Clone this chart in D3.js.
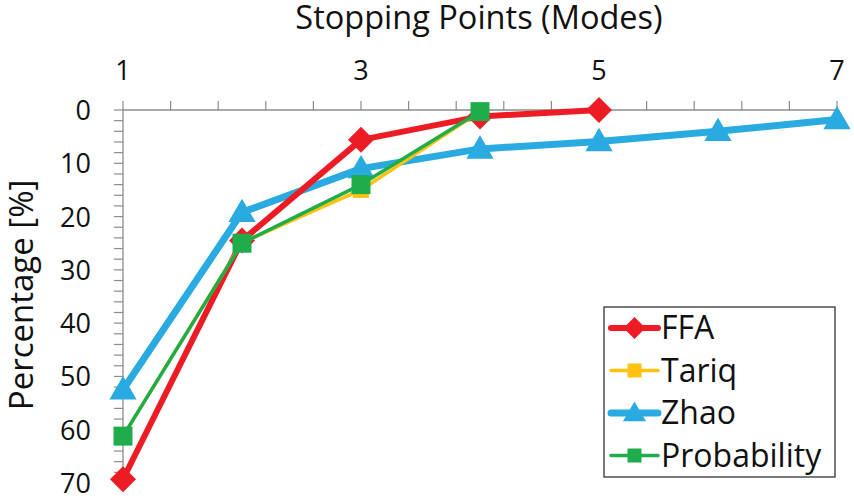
<!DOCTYPE html>
<html><head><meta charset="utf-8">
<script src="https://cdn.jsdelivr.net/npm/d3@7"></script>
<style>body{margin:0;background:#fff}svg{display:block}text{font-family:"Open Sans",sans-serif;fill:#111}</style>
</head><body><svg id="c" width="854" height="499"></svg>
<script>
const modes = [1,2,3,4,5,6,7];
const ffa = [69.3, 24.5, 5.6, 1.2, 0];
const tariq = [61.2, 24.9, 15, 0.3];
const zhao = [52.5, 19.2, 11, 7.3, 5.9, 4, 1.8];
const probability = [61.2, 25, 14, 0.3];
const xTickLabels = [1,3,5,7];
const yTickLabels = [0,10,20,30,40,50,60,70];
const seriesNames = ["FFA","Tariq","Zhao","Probability"];

const svg = d3.select("#c");
const x = d3.scaleLinear().domain([1,7]).range([123,837]);
const y = d3.scaleLinear().domain([0,70]).range([110,483]);

const axisColor = "#8c8c8c";
const xg = svg.append("g");
xg.append("line").attr("x1",x(1)).attr("x2",x(7)).attr("y1",y(0)).attr("y2",y(0)).attr("stroke",axisColor).attr("stroke-width",1.3);
d3.range(1,7.001,0.4).forEach(v=>{
  xg.append("line").attr("x1",x(v)).attr("x2",x(v)).attr("y1",y(0)).attr("y2",y(0)-9).attr("stroke",axisColor).attr("stroke-width",1.2);
});
xTickLabels.forEach(v=>{
  xg.append("text").attr("x",x(v)).attr("y",80).attr("text-anchor","middle").attr("font-size",27).text(v);
});
const yg = svg.append("g");
yg.append("line").attr("x1",x(1)).attr("x2",x(1)).attr("y1",y(0)).attr("y2",y(70)).attr("stroke",axisColor).attr("stroke-width",1.3);
d3.range(0,70.001,2).forEach(v=>{
  yg.append("line").attr("x1",x(1)-9).attr("x2",x(1)).attr("y1",y(v)).attr("y2",y(v)).attr("stroke",axisColor).attr("stroke-width",1.2);
});
yTickLabels.forEach(v=>{
  yg.append("text").attr("x",91).attr("y",y(v)+10).attr("text-anchor","end").attr("font-size",27).text(v);
});
svg.append("text").attr("x",479).attr("y",29).attr("text-anchor","middle").attr("font-size",32.5).text("Stopping Points (Modes)");
svg.append("text").attr("transform","translate(33,295) rotate(-90)").attr("text-anchor","middle").attr("font-size",33).text("Percentage [%]");

const series = [
  {name:"FFA", vals:ffa, color:"#ed1c24", width:6, marker:"diamond", size:13},
  {name:"Tariq", vals:tariq, color:"#ffc20e", width:3.5, marker:"square", size:8},
  {name:"Zhao", vals:zhao, color:"#29abe2", width:7, marker:"triangle", size:13},
  {name:"Probability", vals:probability, color:"#1fad4b", width:3.5, marker:"square", size:9.5}
];
function markerPath(type, s){
  if(type==="diamond") return `M0,${-s}L${s},0L0,${s}L${-s},0Z`;
  if(type==="square") return `M${-s},${-s}H${s}V${s}H${-s}Z`;
  if(type==="triangle") return `M0,${-s*1.05}L${s*1.05},${s*0.75}L${-s*1.05},${s*0.75}Z`;
}
const line = d3.line().x((d,i)=>x(modes[i])).y(d=>y(d));
const order = ["Zhao","FFA","Tariq","Probability"];
order.forEach(n=>{
  const s = series.find(d=>d.name===n);
  const g = svg.append("g");
  g.append("path").attr("d",line(s.vals)).attr("fill","none").attr("stroke",s.color).attr("stroke-width",s.width).attr("stroke-linejoin","round").attr("stroke-linecap","round");
  g.selectAll("path.m").data(s.vals).join("path").attr("class","m")
    .attr("transform",(d,i)=>`translate(${x(modes[i])},${y(d)})`)
    .attr("d",markerPath(s.marker,s.size)).attr("fill",s.color);
});

const lg = svg.append("g");
lg.append("rect").attr("x",604).attr("y",307).attr("width",231).attr("height",170).attr("fill","#fff").attr("stroke","#333").attr("stroke-width",1.3);
series.forEach((s,i)=>{
  const cy = 328 + i*42.5;
  lg.append("line").attr("x1",611).attr("x2",658).attr("y1",cy).attr("y2",cy).attr("stroke",s.color).attr("stroke-width",s.width).attr("stroke-linecap","round");
  lg.append("path").attr("transform",`translate(634.5,${cy})`).attr("d",markerPath(s.marker, s.marker==="square"?7:11)).attr("fill",s.color);
  lg.append("text").attr("x",661).attr("y",cy+11).attr("font-size",32).text(s.name);
});
</script></body></html>
